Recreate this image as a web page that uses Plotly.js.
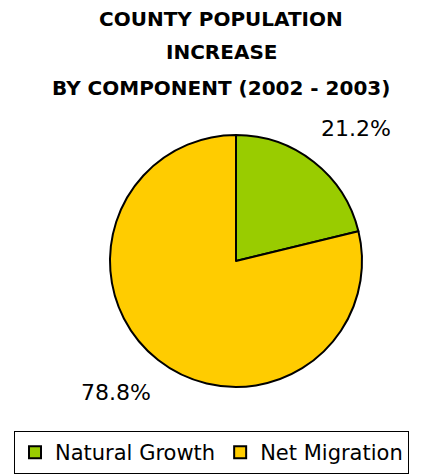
<!DOCTYPE html>
<html><head><meta charset="utf-8">
<script src="https://cdn.plot.ly/plotly-3.0.1.min.js"></script>
<style>html,body{margin:0;padding:0;background:#fff;}#chart{width:427px;height:475px;}</style>
</head><body><div id="chart"></div>
<script>
const titleLines = ["COUNTY POPULATION", "INCREASE", "BY COMPONENT (2002 - 2003)"];
const categories = ["Natural Growth", "Net Migration"];
const values = [21.2, 78.8];
const colors = ["#99CC00", "#FFCC00"];

const font = "'Comic Sans MS', 'DejaVu Sans', sans-serif";
const total = values.reduce((a, b) => a + b, 0);
const pct = values.map(v => (100 * v / total).toFixed(1) + "%");

const annotations = [];
const titleY = [19, 52, 88];
titleLines.forEach((t, i) => annotations.push({
  text: "<b>" + t + "</b>", xref: "paper", yref: "paper",
  x: 221 / 427, y: 1 - titleY[i] / 475, xanchor: "center", yanchor: "middle",
  showarrow: false, font: {family: font, size: 20, color: "#000"}
}));
const labelPos = [[356, 128], [116, 392]];
pct.forEach((p, i) => annotations.push({
  text: p, xref: "paper", yref: "paper",
  x: labelPos[i][0] / 427, y: 1 - labelPos[i][1] / 475, xanchor: "center", yanchor: "middle",
  showarrow: false, font: {family: font, size: 22, color: "#000"}
}));

const data = [{
  type: "pie", labels: categories, values: values, sort: false, direction: "clockwise",
  rotation: 0, marker: {colors: colors, line: {color: "#000", width: 2}},
  textinfo: "none", hoverinfo: "label+percent",
  domain: {x: [110 / 427, 362 / 427], y: [1 - 387 / 475, 1 - 135 / 475]}
}];

const layout = {
  width: 427, height: 475, margin: {l: 0, r: 0, t: 0, b: 0},
  paper_bgcolor: "#fff", plot_bgcolor: "#fff",
  showlegend: true,
  legend: {orientation: "h", x: 14 / 427, y: 1 - 431 / 475, xanchor: "left", yanchor: "top",
    bordercolor: "#000", borderwidth: 1, font: {family: font, size: 21, color: "#000"},
    itemwidth: 30, tracegroupgap: 0},
  annotations: annotations
};
Plotly.newPlot("chart", data, layout, {displayModeBar: false});
</script></body></html>
